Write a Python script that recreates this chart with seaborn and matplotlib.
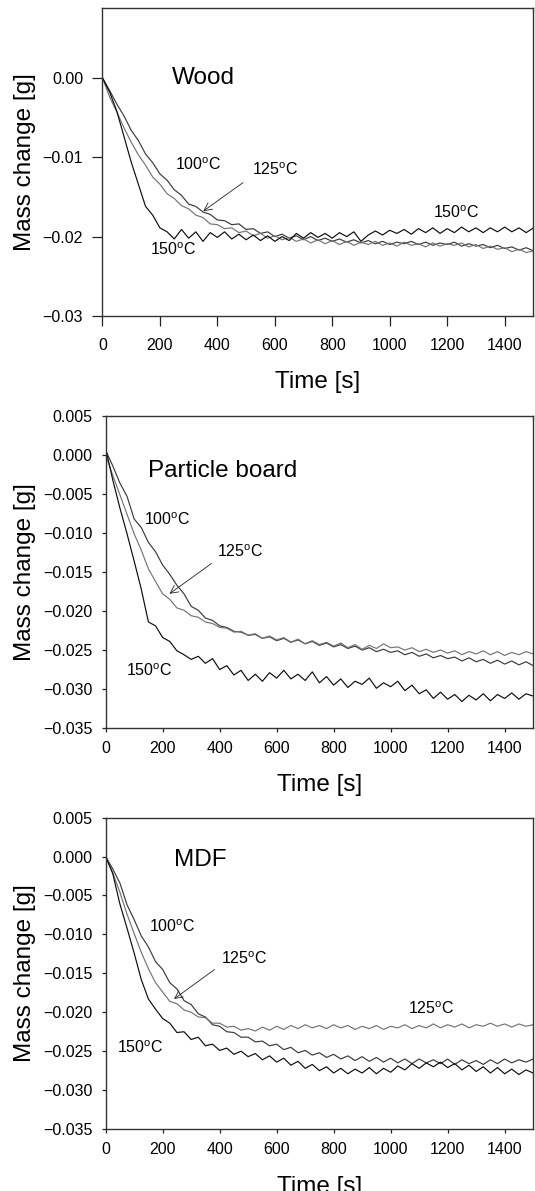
import numpy as np
import pandas as pd
import matplotlib
matplotlib.use("Agg")
import matplotlib.pyplot as plt
import seaborn as sns
from matplotlib.ticker import FuncFormatter

# ---- data (mass change in mg) ----
time_s = [0, 25, 50, 75, 100, 125, 150, 175, 200, 225, 250, 275, 300, 325, 350,
          375, 400, 425, 450, 475, 500, 525, 550, 575, 600, 625, 650, 675, 700,
          725, 750, 775, 800, 825, 850, 875, 900, 925, 950, 975, 1000, 1025,
          1050, 1075, 1100, 1125, 1150, 1175, 1200, 1225, 1250, 1275, 1300,
          1325, 1350, 1375, 1400, 1425, 1450, 1475, 1500]

wood_100 = [0, -1.6, -3.3, -4.8, -6.6, -7.9, -9.6, -10.7, -12.1, -12.9, -14.1, -14.8,
            -15.9, -16.2, -16.9, -17.2, -17.9, -18.0, -18.5, -18.4, -19.1, -19.0,
            -19.6, -19.4, -20.0, -19.7, -20.2, -19.9, -20.4, -20.0, -20.5, -20.2,
            -20.6, -20.3, -20.7, -20.4, -20.8, -20.5, -20.9, -20.6, -21.0, -20.7,
            -20.9, -20.6, -21.0, -20.7, -21.1, -20.8, -21.0, -20.7, -21.2, -20.9,
            -21.2, -21.0, -21.4, -21.1, -21.5, -21.3, -21.7, -21.4, -21.8]
wood_125 = [0, -2.4, -4.3, -6.3, -8.1, -9.7, -11.0, -12.5, -13.4, -14.6, -15.2, -16.1,
            -16.5, -17.3, -17.6, -18.4, -18.5, -19.0, -18.9, -19.5, -19.3, -19.9,
            -19.6, -20.2, -19.9, -20.4, -20.1, -20.6, -20.3, -20.8, -20.4, -20.9,
            -20.5, -21.0, -20.6, -21.1, -20.7, -21.0, -20.6, -21.1, -20.8, -21.2,
            -20.7, -21.1, -20.9, -21.3, -20.8, -21.2, -20.9, -21.1, -20.8, -21.3,
            -21.0, -21.5, -21.2, -21.6, -21.4, -21.9, -21.6, -22.0, -21.8]
wood_150 = [0, -1.8, -4.2, -7.4, -10.6, -13.4, -16.2, -17.3, -18.9, -19.4, -20.3, -19.1,
            -20.2, -19.4, -20.6, -19.5, -20.1, -19.4, -20.3, -19.7, -20.4, -19.8,
            -20.5, -19.9, -20.6, -20.0, -20.5, -19.6, -20.2, -19.5, -20.1, -19.6,
            -20.2, -19.5, -20.0, -19.4, -20.6, -19.8, -19.3, -19.8, -19.2, -19.6,
            -19.1, -19.7, -19.0, -19.5, -18.9, -19.6, -19.0, -19.5, -18.8, -19.4,
            -18.9, -19.5, -18.9, -19.4, -18.8, -19.4, -18.9, -19.5, -18.9]

pb_100 = [0.6, -1.4, -3.6, -5.3, -8.2, -9.3, -11.2, -12.4, -14.1, -15.3, -16.7, -17.8,
          -19.4, -19.9, -20.9, -21.2, -21.9, -22.1, -22.6, -22.7, -23.1, -23.0,
          -23.5, -23.3, -23.8, -23.5, -24.0, -23.7, -24.2, -23.9, -24.4, -24.1,
          -24.6, -24.3, -24.8, -24.5, -25.0, -24.7, -25.2, -24.9, -25.3, -25.1,
          -25.6, -25.3, -25.8, -25.5, -26.0, -25.7, -26.1, -25.9, -26.4, -26.0,
          -26.5, -26.2, -26.7, -26.3, -26.8, -26.4, -26.9, -26.5, -27.0]
pb_125 = [0, -2.6, -5.1, -7.6, -10.1, -12.2, -14.6, -16.2, -17.8, -18.5, -19.6, -19.9,
          -20.6, -20.8, -21.4, -21.6, -22.1, -22.2, -22.7, -22.6, -23.1, -22.9,
          -23.5, -23.2, -23.7, -23.4, -24.0, -23.6, -24.2, -23.8, -24.3, -24.0,
          -24.5, -24.1, -24.7, -24.3, -24.9, -24.4, -24.8, -24.2, -24.7, -24.6,
          -25.0, -24.7, -25.2, -24.9, -25.3, -25.0, -25.4, -25.1, -25.6, -25.2,
          -25.5, -25.1, -25.6, -25.2, -25.7, -25.3, -25.6, -25.2, -25.5]
pb_150 = [0.8, -3.2, -6.8, -10.1, -13.6, -17.2, -21.4, -21.9, -23.4, -23.9, -25.1, -25.6,
          -26.2, -25.8, -26.7, -26.1, -27.5, -27.0, -28.2, -27.6, -28.9, -28.1,
          -29.0, -27.9, -28.6, -27.6, -28.7, -28.1, -28.9, -27.8, -29.2, -28.4,
          -29.5, -28.7, -29.8, -29.0, -29.4, -28.6, -29.9, -29.2, -29.7, -29.0,
          -30.2, -29.5, -30.6, -30.1, -31.2, -30.4, -31.3, -30.7, -31.6, -30.8,
          -31.4, -30.6, -31.5, -30.7, -31.2, -30.5, -31.3, -30.6, -30.9]

mdf_100 = [0, -1.6, -3.4, -6.2, -8.1, -10.2, -11.6, -13.5, -14.5, -16.2, -17.0, -18.5,
           -19.0, -20.2, -20.6, -21.6, -21.8, -22.5, -22.6, -23.2, -23.2, -23.8,
           -23.7, -24.3, -24.1, -24.8, -24.5, -25.2, -24.9, -25.5, -25.2, -25.8,
           -25.4, -26.0, -25.6, -26.2, -25.7, -26.3, -25.8, -26.4, -25.9, -26.5,
           -26.0, -26.6, -26.0, -26.5, -26.1, -26.6, -26.0, -26.7, -26.1, -26.6,
           -26.2, -26.7, -26.1, -26.6, -26.0, -26.5, -26.1, -26.4, -26.0]
mdf_125 = [0, -2.1, -4.6, -7.4, -9.9, -12.3, -14.4, -16.2, -17.4, -18.6, -18.9, -19.7,
           -20.0, -20.6, -20.7, -21.4, -21.4, -21.9, -21.8, -22.3, -22.1, -22.4,
           -21.9, -22.3, -21.8, -22.2, -21.7, -22.1, -21.6, -22.0, -21.7, -22.1,
           -21.6, -22.0, -21.7, -22.2, -21.8, -22.1, -21.7, -22.2, -21.8, -22.0,
           -21.6, -22.1, -21.7, -22.0, -21.5, -22.0, -21.6, -21.9, -21.5, -22.0,
           -21.6, -21.8, -21.4, -21.8, -21.5, -21.9, -21.5, -21.8, -21.6]
mdf_150 = [0, -2.2, -6.1, -9.2, -12.4, -15.8, -18.3, -19.6, -20.8, -21.4, -22.6, -22.5,
           -23.5, -23.2, -24.3, -24.1, -24.9, -24.6, -25.4, -25.0, -25.7, -25.3,
           -26.1, -25.6, -26.4, -25.9, -26.8, -26.3, -27.2, -26.7, -27.5, -27.0,
           -27.8, -27.2, -27.9, -27.3, -27.8, -27.1, -27.9, -27.2, -27.7, -26.9,
           -27.4, -26.6, -27.2, -26.5, -27.0, -26.4, -27.1, -26.6, -27.4, -26.8,
           -27.6, -27.0, -27.8, -27.1, -27.9, -27.3, -28.0, -27.4, -27.8]

temps = ["100", "125", "150"]
line_colors = {"100": "#3a3a3a", "125": "#747474", "150": "#0d0d0d"}

sns.set_style("ticks")
plt.rcParams["font.family"] = ["Liberation Sans", "DejaVu Sans"]
plt.rcParams["text.color"] = "black"
plt.rcParams["axes.labelcolor"] = "black"


def deg(t):
    return t + r"$^{\mathregular{o}}$C"


def draw_panel(ax, series, title, title_xy, yticks, fmt, ylim, tick_len, xpad, xlabelpad):
    for t, vals in zip(temps, series):
        df = pd.DataFrame({"time": time_s, "mass": np.array(vals) / 1000.0})
        sns.lineplot(data=df, x="time", y="mass", ax=ax, color=line_colors[t],
                     lw=0.85, estimator=None, sort=False)
    ax.set_xlim(0, 1500)
    ax.set_ylim(*ylim)
    ax.set_xticks(range(0, 1401, 200))
    ax.set_yticks(yticks)
    ax.yaxis.set_major_formatter(FuncFormatter(
        lambda v, p: (fmt % v).replace("-", "\u2212") if abs(v) > 1e-9 else fmt % 0))
    ax.tick_params(direction="out", length=tick_len, width=0.9, labelsize=11.5,
                   colors="#222222", labelcolor="black")
    ax.tick_params(axis="x", pad=xpad)
    ax.tick_params(axis="y", pad=6.5)
    for s in ax.spines.values():
        s.set_color("#333333")
        s.set_linewidth(1.0)
    ax.set_xlabel("Time [s]", fontsize=17.5, labelpad=xlabelpad)
    ax.set_ylabel("Mass change [g]", fontsize=17.5, labelpad=5)
    ax.text(title_xy[0], title_xy[1], title, fontsize=17.5, va="center", ha="left")


fig = plt.figure(figsize=(5.35, 11.91), dpi=100)
ax1 = fig.add_axes([0.1915, 0.7347, 0.8055, 0.2586])
ax2 = fig.add_axes([0.1975, 0.3887, 0.7990, 0.2620])
ax3 = fig.add_axes([0.1975, 0.0520, 0.7990, 0.2615])

arrow = dict(arrowstyle="->", lw=0.6, color="#222222", mutation_scale=14)
fs_ann = 11.5

# Wood
draw_panel(ax1, [wood_100, wood_125, wood_150], "Wood", (240, 0.0),
           [0.0, -0.01, -0.02, -0.03], "%.2f", (-0.03, 0.0088), 7.5, 8, 13)
ax1.text(253, -0.0110, deg("100"), fontsize=fs_ann, va="center")
ax1.text(521, -0.0116, deg("125"), fontsize=fs_ann, va="center")
ax1.annotate("", xy=(343, -0.0170), xytext=(497, -0.0130), arrowprops=arrow)
ax1.text(165, -0.0217, deg("150"), fontsize=fs_ann, va="center")
ax1.text(1151, -0.0170, deg("150"), fontsize=fs_ann, va="center")

# Particle board
draw_panel(ax2, [pb_100, pb_125, pb_150], "Particle board", (150, -0.0020),
           [0.005, 0.0, -0.005, -0.01, -0.015, -0.02, -0.025, -0.03, -0.035],
           "%.3f", (-0.035, 0.005), 3, 6, 13)
ax2.text(136, -0.0083, deg("100"), fontsize=fs_ann, va="center")
ax2.text(389, -0.0124, deg("125"), fontsize=fs_ann, va="center")
ax2.annotate("", xy=(216, -0.0180), xytext=(379, -0.0137), arrowprops=arrow)
ax2.text(72, -0.0277, deg("150"), fontsize=fs_ann, va="center")

# MDF
draw_panel(ax3, [mdf_100, mdf_125, mdf_150], "MDF", (240, -0.0005),
           [0.005, 0.0, -0.005, -0.01, -0.015, -0.02, -0.025, -0.03, -0.035],
           "%.3f", (-0.035, 0.005), 3, 6, 14)
ax3.text(153, -0.0090, deg("100"), fontsize=fs_ann, va="center")
ax3.text(405, -0.0131, deg("125"), fontsize=fs_ann, va="center")
ax3.annotate("", xy=(232, -0.0185), xytext=(390, -0.0143), arrowprops=arrow)
ax3.text(1060, -0.0196, deg("125"), fontsize=fs_ann, va="center")
ax3.text(39, -0.0245, deg("150"), fontsize=fs_ann, va="center")

fig.savefig("out.png", dpi=100, facecolor="white")
